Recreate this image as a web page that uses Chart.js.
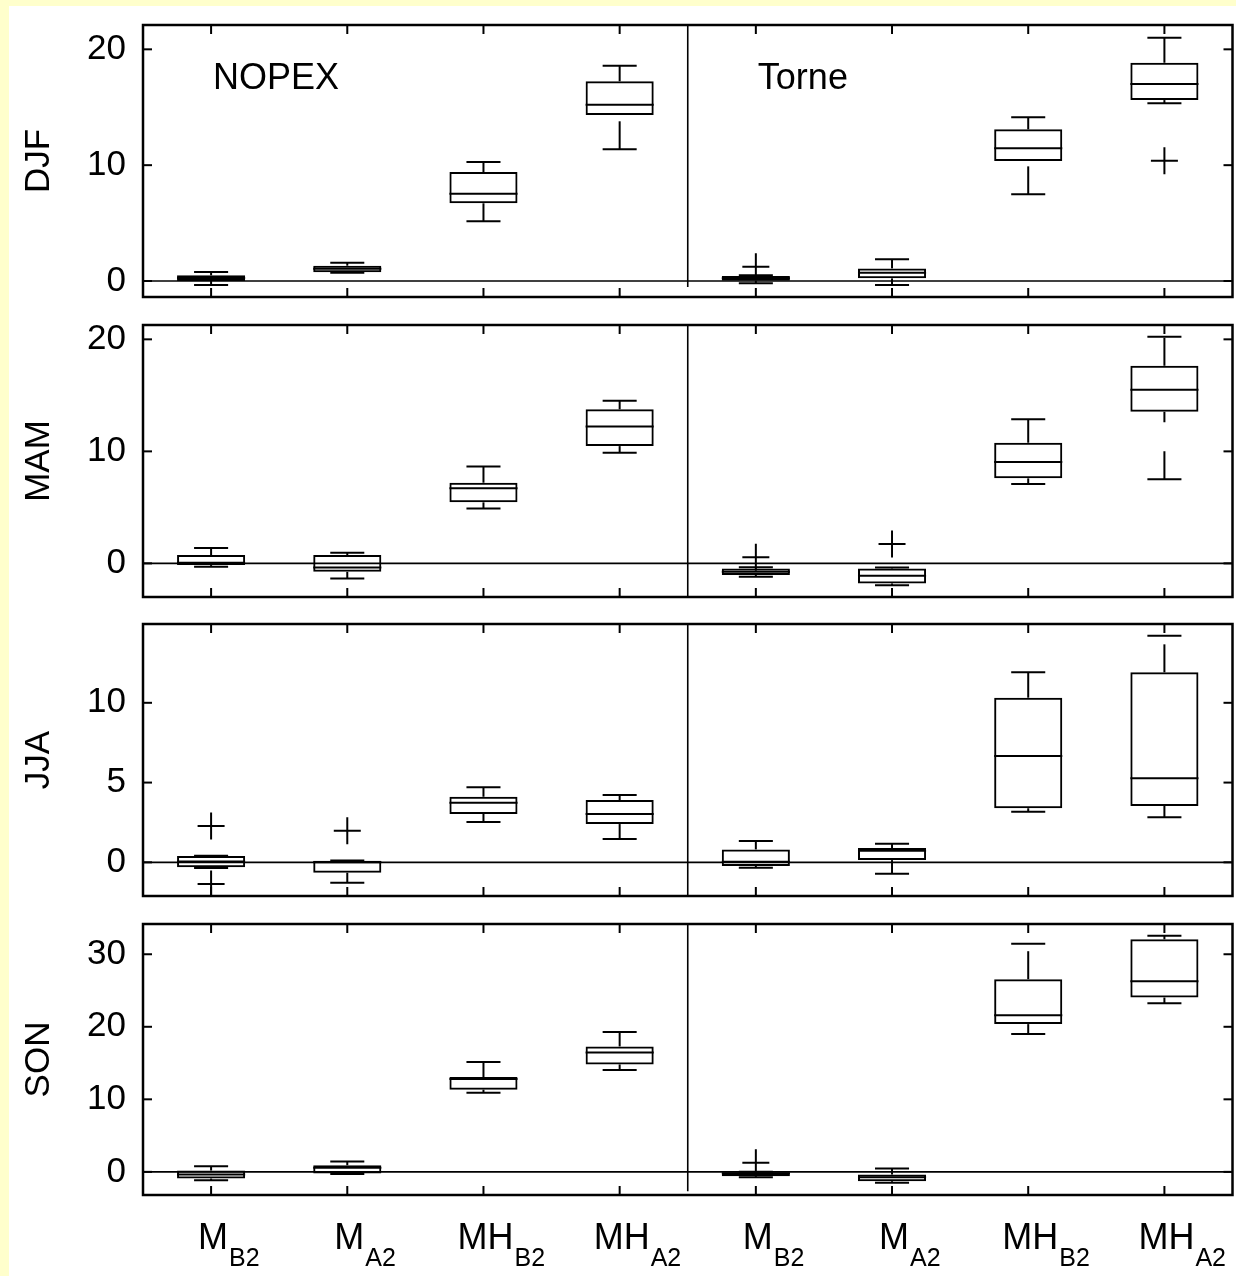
<!DOCTYPE html>
<html>
<head>
<meta charset="utf-8">
<script src="https://cdn.jsdelivr.net/npm/chart.js@4.4.1/dist/chart.umd.min.js"></script>
<style>
  html, body { margin: 0; padding: 0; background: #FFFFCC; width: 1236px; height: 1276px; overflow: hidden; }
  #page { position: absolute; left: 9px; top: 6px; width: 1227px; height: 1270px; background: #ffffff; }
  .panel { position: absolute; left: 0; }
</style>
</head>
<body>
<div id="page"></div>
<div id="panels"></div>
<script>
// ---------------- DATA ----------------
const groups = ['NOPEX', 'Torne'];
const scenarioMain = ['M', 'M', 'MH', 'MH'];
const scenarioSub = ['B2', 'A2', 'B2', 'A2'];
const seasons = ['DJF', 'MAM', 'JJA', 'SON'];

// y-axis limits and tick steps per season
const yMin = [-1.38, -3.0, -2.11, -3.19];
const yMax = [22.1, 21.28, 14.94, 34.17];
const yStep = [10, 10, 5, 10];
const dividerBottom = [-0.52, -3.0, -2.11, -2.67];

// order of boxes: NOPEX M_B2, M_A2, MH_B2, MH_A2, Torne M_B2, M_A2, MH_B2, MH_A2
const djfLow  = [-0.35, 0.72, 5.15, 11.37, -0.20, -0.35, 7.48, 15.34];
const djfQ1   = [0.00, 0.75, 6.71, 14.33, 0.03, 0.23, 10.36, 15.62];
const djfMed  = [0.25, 1.05, 7.54, 15.22, 0.23, 0.72, 11.45, 17.00];
const djfQ3   = [0.49, 1.32, 9.41, 17.24, 0.43, 1.09, 13.09, 18.84];
const djfHigh = [0.78, 1.58, 10.27, 18.59, 0.50, 1.87, 14.13, 21.00];
const djfOut  = [[4, 1.23], [7, 10.38]];

const mamLow  = [-0.30, -1.34, 4.91, 9.88, -1.19, -1.94, 7.08, 7.50];
const mamQ1   = [-0.15, -0.75, 5.45, 10.47, -1.04, -1.79, 7.59, 13.54];
const mamMed  = [0.05, -0.36, 6.70, 12.23, -0.75, -1.10, 9.04, 15.50];
const mamQ3   = [0.74, 0.74, 7.20, 13.75, -0.45, -0.45, 10.77, 17.64];
const mamHigh = [1.37, 0.95, 8.66, 14.52, -0.35, -0.36, 12.86, 20.23];
const mamOut  = [[4, 0.54], [5, 1.72]];

const jjaLow  = [-0.35, -1.28, 2.53, 1.46, -0.34, -0.71, 3.17, 2.82];
const jjaQ1   = [-0.31, -0.65, 3.03, 2.40, -0.23, 0.14, 3.39, 3.53];
const jjaMed  = [0.05, 0.00, 3.74, 3.03, 0.04, 0.73, 6.66, 5.27];
const jjaQ3   = [0.39, 0.10, 4.11, 3.90, 0.81, 0.90, 10.32, 11.91];
const jjaHigh = [0.42, 0.12, 4.70, 4.22, 1.34, 1.17, 11.91, 14.21];
const jjaOut  = [[0, 2.28], [0, -1.36], [1, 1.98]];

const sonLow  = [-1.15, -0.30, 10.91, 14.03, -0.74, -1.51, 18.99, 23.25];
const sonQ1   = [-0.92, -0.23, 11.33, 14.81, -0.60, -1.29, 20.37, 24.03];
const sonMed  = [-0.37, 0.55, 12.80, 16.46, -0.20, -0.74, 21.60, 26.28];
const sonQ3   = [0.18, 0.91, 13.07, 17.29, -0.05, -0.37, 26.56, 32.06];
const sonHigh = [0.78, 1.42, 15.14, 19.27, 0.00, 0.45, 31.46, 32.56];
const sonOut  = [[4, 1.24]];

const seasonData = [
  { low: djfLow, q1: djfQ1, med: djfMed, q3: djfQ3, high: djfHigh, out: djfOut },
  { low: mamLow, q1: mamQ1, med: mamMed, q3: mamQ3, high: mamHigh, out: mamOut },
  { low: jjaLow, q1: jjaQ1, med: jjaMed, q3: jjaQ3, high: jjaHigh, out: jjaOut },
  { low: sonLow, q1: sonQ1, med: sonMed, q3: sonQ3, high: sonHigh, out: sonOut }
];

// ---------------- CHART ----------------
const FONT = "'Liberation Sans', Arial, Helvetica, sans-serif";
Chart.defaults.font.family = FONT;
Chart.defaults.color = '#000';

const catKeys = [];
groups.forEach(g => scenarioMain.forEach((m, i) => catKeys.push(g + '|' + m + '_' + scenarioSub[i])));

function seg(ctx, x1, y1, x2, y2) {
  ctx.beginPath(); ctx.moveTo(x1, y1); ctx.lineTo(x2, y2); ctx.stroke();
}

const boxPlugin = {
  id: 'boxplot',
  beforeDatasetsDraw(chart) {
    const o = chart.options.plugins.boxplot;
    const { ctx, chartArea: ca, scales: { x, y } } = chart;
    ctx.save();
    ctx.strokeStyle = '#000';
    ctx.lineWidth = 1.6;
    const y0 = y.getPixelForValue(0);
    seg(ctx, ca.left, y0, ca.right, y0);
    const xd = x.getPixelForValue(3.5);
    seg(ctx, xd, ca.top, xd, Math.min(ca.bottom, y.getPixelForValue(o.divBottom)));
    ctx.restore();
  },
  afterDatasetsDraw(chart) {
    const o = chart.options.plugins.boxplot;
    const d = o.stats;
    const { ctx, chartArea: ca, scales: { x, y } } = chart;
    const bars = chart.getDatasetMeta(0).data;
    ctx.save();
    ctx.strokeStyle = '#000';
    ctx.lineCap = 'butt';
    bars.forEach((bar, k) => {
      const cx = bar.x, hw = bar.width / 2, cw = hw / 2;
      ctx.lineWidth = 2;
      const ym = y.getPixelForValue(d.med[k]);
      seg(ctx, cx - hw, ym, cx + hw, ym);
      const yl = y.getPixelForValue(d.low[k]);
      const yq1 = y.getPixelForValue(d.q1[k]);
      const yq3 = y.getPixelForValue(d.q3[k]);
      const yh = y.getPixelForValue(d.high[k]);
      ctx.setLineDash([28, 29]);
      seg(ctx, cx, yl, cx, yq1);
      seg(ctx, cx, yq3, cx, yh);
      ctx.setLineDash([]);
      seg(ctx, cx - cw, yl, cx + cw, yl);
      seg(ctx, cx - cw, yh, cx + cw, yh);
    });
    // frame
    ctx.lineWidth = 2.5;
    ctx.strokeRect(ca.left, ca.top, ca.right - ca.left, ca.bottom - ca.top);
    // inward ticks
    ctx.lineWidth = 2;
    for (let k = 0; k < catKeys.length; k++) {
      const px = x.getPixelForValue(k);
      seg(ctx, px, ca.top, px, ca.top + 9);
      seg(ctx, px, ca.bottom, px, ca.bottom - 9);
    }
    y.ticks.forEach(t => {
      const py = y.getPixelForValue(t.value);
      seg(ctx, ca.left, py, ca.left + 9, py);
      seg(ctx, ca.right, py, ca.right - 9, py);
    });
    ctx.fillStyle = '#000';
    if (o.showGroups) {
      ctx.font = '36px ' + FONT;
      ctx.textAlign = 'left';
      ctx.textBaseline = 'alphabetic';
      groups.forEach((g, gi) => {
        ctx.fillText(g, x.getPixelForValue(gi * 4) + 2, y.getPixelForValue(16.55));
      });
    }
    if (o.showXLabels) {
      catKeys.forEach((key, k) => {
        const main = scenarioMain[k % 4], sub = scenarioSub[k % 4];
        const cx = x.getPixelForValue(k) + 2;
        ctx.font = '36px ' + FONT;
        const w = ctx.measureText(main).width;
        ctx.textAlign = 'center';
        ctx.textBaseline = 'alphabetic';
        ctx.fillText(main, cx, ca.bottom + 54);
        ctx.font = '25px ' + FONT;
        ctx.textAlign = 'left';
        ctx.fillText(sub, cx + w / 2 + 1, ca.bottom + 71);
      });
    }
    ctx.restore();
  }
};

const frameTops = [25, 325, 624, 924];
const frameBottoms = [297, 597, 896, 1195];
const FRAME_LEFT = 143, FRAME_RIGHT = 1232;
const PAD = 45;
const holder = document.getElementById('panels');

function buildPanel(i, canvasWidth) {
  const season = seasons[i];
  const isLast = i === seasons.length - 1;
  const padBottom = isLast ? 1276 - frameBottoms[i] : PAD;
  const top = frameTops[i] - PAD;
  const height = PAD + (frameBottoms[i] - frameTops[i]) + padBottom;
  const div = document.createElement('div');
  div.className = 'panel';
  div.style.top = top + 'px';
  div.style.width = canvasWidth + 'px';
  div.style.height = height + 'px';
  const canvas = document.createElement('canvas');
  canvas.width = canvasWidth; canvas.height = height;
  canvas.style.width = canvasWidth + 'px'; canvas.style.height = height + 'px';
  div.appendChild(canvas);
  holder.appendChild(div);

  const d = seasonData[i];
  const chart = new Chart(canvas, {
    type: 'bar',
    data: {
      labels: catKeys,
      datasets: [
        {
          type: 'bar',
          data: d.q1.map((v, k) => [v, d.q3[k]]),
          backgroundColor: 'rgba(0,0,0,0)',
          borderColor: '#000',
          borderWidth: 2,
          borderSkipped: false,
          barPercentage: 0.5,
          categoryPercentage: 1.0,
          order: 2
        },
        {
          type: 'scatter',
          data: d.out.map(o => ({ x: catKeys[o[0]], y: o[1] })),
          pointStyle: 'cross',
          radius: 13.5,
          borderColor: '#000',
          backgroundColor: '#000',
          borderWidth: 2,
          order: 1
        }
      ]
    },
    options: {
      responsive: false,
      animation: false,
      events: [],
      layout: { padding: { top: PAD, bottom: padBottom, left: 0, right: 1236 - FRAME_RIGHT } },
      plugins: {
        legend: { display: false },
        tooltip: { enabled: false },
        boxplot: {
          stats: d,
          divBottom: dividerBottom[i],
          showGroups: i === 0,
          showXLabels: isLast
        }
      },
      scales: {
        x: {
          type: 'category', display: false, offset: true,
          grid: { display: false }, ticks: { display: false }
        },
        y: {
          min: yMin[i], max: yMax[i],
          afterFit: s => { s.width = FRAME_LEFT; },
          grid: { display: false, drawTicks: false },
          border: { display: false },
          ticks: {
            stepSize: yStep[i], includeBounds: false, padding: 17,
            font: { size: 35, family: FONT }, color: '#000',
            callback: v => String(v)
          },
          title: {
            display: true, text: season, color: '#000',
            font: { size: 35, family: FONT },
            padding: { top: 18, bottom: 0 }
          }
        }
      }
    },
    plugins: [boxPlugin]
  });
  return { chart, div };
}

seasons.forEach((season, i) => {
  let built = buildPanel(i, 1236);
  // the layout keeps some extra room on the right; widen the canvas so the frame ends where the reference's does
  const shortBy = FRAME_RIGHT - built.chart.chartArea.right;
  if (Math.abs(shortBy) > 0.5) {
    built.chart.destroy();
    built.div.remove();
    built = buildPanel(i, Math.round(1236 + shortBy));
  }
});
</script>
</body>
</html>
